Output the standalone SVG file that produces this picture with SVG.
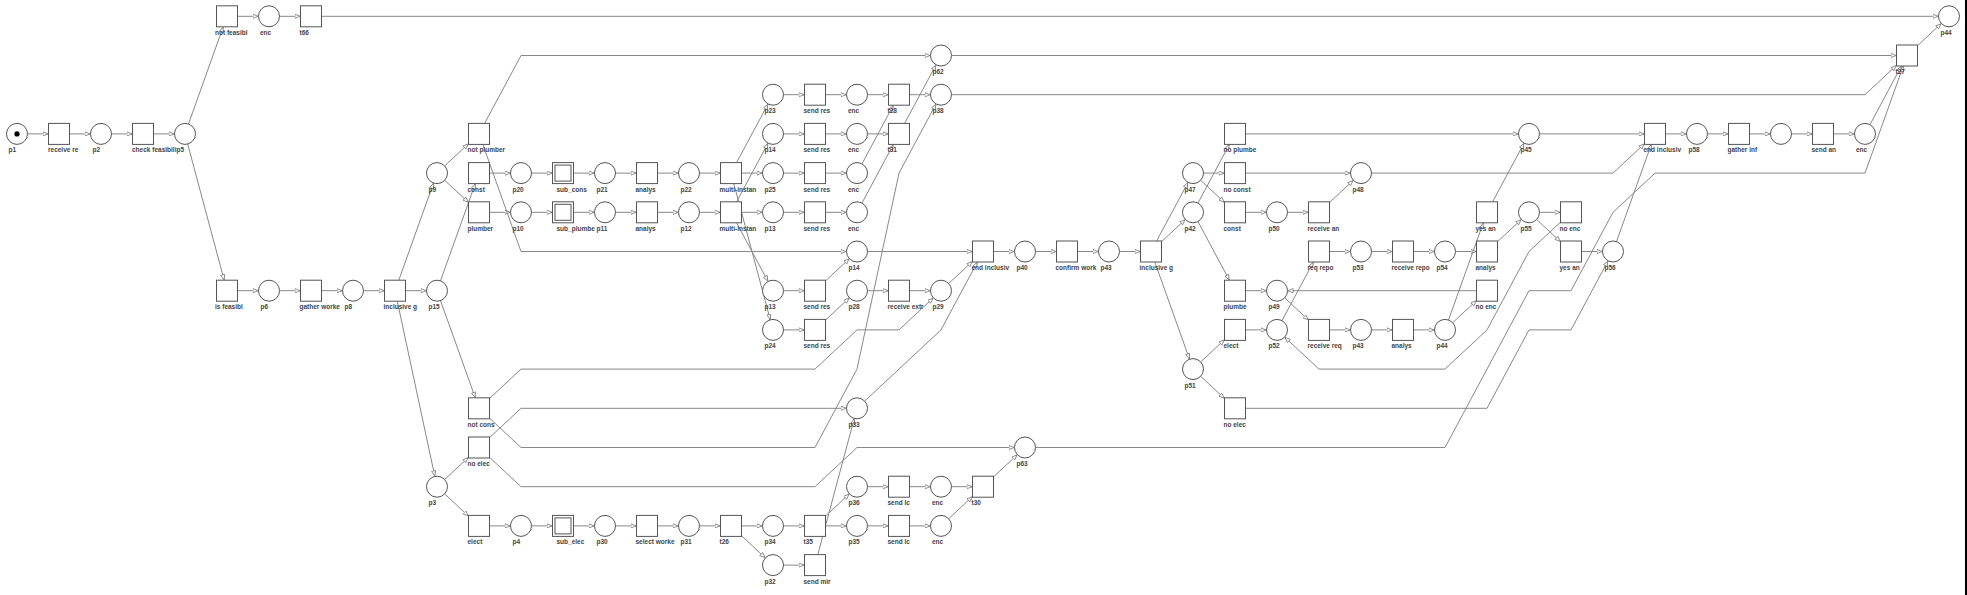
<svg xmlns="http://www.w3.org/2000/svg" width="1967" height="595" viewBox="0 0 1967 595">
<defs>
<marker id="a" viewBox="0 0 6 5" refX="6" refY="2.5" markerWidth="6" markerHeight="5" markerUnits="userSpaceOnUse" orient="auto"><path d="M0.4,0.4 L5.6,2.5 L0.4,4.6 Z" style="fill:#fff;stroke:#777;stroke-width:0.8"/></marker>
</defs>
<style>
.e{fill:none;stroke:#888;stroke-width:1;marker-end:url(#a)}
g circle,g rect{fill:#fff;stroke:#555;stroke-width:1}
g circle.tk{fill:#000;stroke:none}
text{font-family:"Liberation Sans",Arial,sans-serif;font-size:6.5px;font-weight:bold;fill:#444}
</style>
<g id="connectors">
<path class="e" d="M237.5,16.3H258.5"/><path class="e" d="M279.5,16.3H300.5"/><path class="e" d="M321.5,16.3H1938.5"/>
<path class="e" d="M951.5,55.5H1896.5"/>
<path class="e" d="M783.5,94.7H804.5"/><path class="e" d="M825.5,94.7H846.5"/><path class="e" d="M867.5,94.7H888.5"/><path class="e" d="M909.5,94.7H930.5"/>
<path class="e" d="M27.5,133.9H48.5"/><path class="e" d="M69.5,133.9H90.5"/><path class="e" d="M111.5,133.9H132.5"/><path class="e" d="M153.5,133.9H174.5"/>
<path class="e" d="M783.5,133.9H804.5"/><path class="e" d="M825.5,133.9H846.5"/><path class="e" d="M867.5,133.9H888.5"/>
<path class="e" d="M1245.5,133.9H1518.5"/><path class="e" d="M1539.5,133.9H1644.5"/><path class="e" d="M1665.5,133.9H1686.5"/><path class="e" d="M1707.5,133.9H1728.5"/><path class="e" d="M1749.5,133.9H1770.5"/><path class="e" d="M1791.5,133.9H1812.5"/><path class="e" d="M1833.5,133.9H1854.5"/>
<path class="e" d="M489.5,173.1H510.5"/><path class="e" d="M531.5,173.1H552.5"/><path class="e" d="M573.5,173.1H594.5"/><path class="e" d="M615.5,173.1H636.5"/><path class="e" d="M657.5,173.1H678.5"/><path class="e" d="M699.5,173.1H720.5"/><path class="e" d="M741.5,173.1H762.5"/><path class="e" d="M783.5,173.1H804.5"/><path class="e" d="M825.5,173.1H846.5"/>
<path class="e" d="M1203.5,173.1H1224.5"/><path class="e" d="M1245.5,173.1H1350.5"/>
<path class="e" d="M489.5,212.3H510.5"/><path class="e" d="M531.5,212.3H552.5"/><path class="e" d="M573.5,212.3H594.5"/><path class="e" d="M615.5,212.3H636.5"/><path class="e" d="M657.5,212.3H678.5"/><path class="e" d="M699.5,212.3H720.5"/><path class="e" d="M741.5,212.3H762.5"/><path class="e" d="M783.5,212.3H804.5"/><path class="e" d="M825.5,212.3H846.5"/>
<path class="e" d="M1245.5,212.3H1266.5"/><path class="e" d="M1287.5,212.3H1308.5"/><path class="e" d="M1539.5,212.3H1560.5"/>
<path class="e" d="M867.5,251.5H972.5"/><path class="e" d="M993.5,251.5H1014.5"/><path class="e" d="M1035.5,251.5H1056.5"/><path class="e" d="M1077.5,251.5H1098.5"/><path class="e" d="M1119.5,251.5H1140.5"/>
<path class="e" d="M1329.5,251.5H1350.5"/><path class="e" d="M1371.5,251.5H1392.5"/><path class="e" d="M1413.5,251.5H1434.5"/><path class="e" d="M1455.5,251.5H1476.5"/><path class="e" d="M1581.5,251.5H1602.5"/>
<path class="e" d="M237.5,290.7H258.5"/><path class="e" d="M279.5,290.7H300.5"/><path class="e" d="M321.5,290.7H342.5"/><path class="e" d="M363.5,290.7H384.5"/><path class="e" d="M405.5,290.7H426.5"/>
<path class="e" d="M783.5,290.7H804.5"/><path class="e" d="M867.5,290.7H888.5"/><path class="e" d="M909.5,290.7H930.5"/>
<path class="e" d="M1245.5,290.7H1266.5"/><path class="e" d="M1476.5,290.7H1287.5"/>
<path class="e" d="M783.5,329.9H804.5"/><path class="e" d="M1245.5,329.9H1266.5"/><path class="e" d="M1329.5,329.9H1350.5"/><path class="e" d="M1371.5,329.9H1392.5"/><path class="e" d="M1413.5,329.9H1434.5"/>
<path class="e" d="M867.5,486.7H888.5"/><path class="e" d="M909.5,486.7H930.5"/><path class="e" d="M951.5,486.7H972.5"/>
<path class="e" d="M489.5,525.9H510.5"/><path class="e" d="M531.5,525.9H552.5"/><path class="e" d="M573.5,525.9H594.5"/><path class="e" d="M615.5,525.9H636.5"/><path class="e" d="M657.5,525.9H678.5"/><path class="e" d="M699.5,525.9H720.5"/><path class="e" d="M741.5,525.9H762.5"/><path class="e" d="M783.5,525.9H804.5"/><path class="e" d="M825.5,525.9H846.5"/><path class="e" d="M867.5,525.9H888.5"/><path class="e" d="M909.5,525.9H930.5"/>
<path class="e" d="M783.5,565.1H804.5"/>
<path class="e" d="M188.5,124L223.2,26.8"/>
<path class="e" d="M187.7,144L224.2,280.2"/>
<path class="e" d="M398.8,280.2L433.5,183"/>
<path class="e" d="M397.3,301.2L434.8,476.4"/>
<path class="e" d="M440.5,280.8L475.3,183.6"/>
<path class="e" d="M440.5,300.6L475.3,397.8"/>
<path class="e" d="M444.7,165.9L468.5,143.7"/>
<path class="e" d="M444.7,180.3L468.5,202.5"/>
<path class="e" d="M444.7,479.5L468.5,457.3"/>
<path class="e" d="M444.7,493.9L468.5,516.1"/>
<path class="e" d="M484.6,123.4L521,55.5H930.5"/>
<path class="e" d="M482.8,144.4L521,251.5H846.5"/>
<path class="e" d="M489.5,398.5L521,369.1H815L857,329.9H899L933.3,297.9"/>
<path class="e" d="M489.5,418.1L521,447.5H815L857,369.1L899,173.1L936,104"/>
<path class="e" d="M489.5,437.7L521,408.3H846.5"/>
<path class="e" d="M489.5,457.3L521,486.7H815L857,447.5H1014.5"/>
<path class="e" d="M736.6,162.6L768,104"/>
<path class="e" d="M733.8,183.6L770.3,319.8"/>
<path class="e" d="M736.6,201.8L768,143.2"/>
<path class="e" d="M736.6,222.8L768,281.4"/>
<path class="e" d="M862,163.8L893.4,105.2"/>
<path class="e" d="M862,203L893.4,144.4"/>
<path class="e" d="M904.6,123.4L936,64.8"/>
<path class="e" d="M825.5,280.9L849.3,258.7"/>
<path class="e" d="M825.5,320.1L849.3,297.9"/>
<path class="e" d="M948.7,283.5L972.5,261.3"/>
<path class="e" d="M817.8,554.6L854.3,418.4"/>
<path class="e" d="M864.7,401.1L941,329.9L977.4,262"/>
<path class="e" d="M741.5,535.7L765.3,557.9"/>
<path class="e" d="M825.5,516.1L849.3,493.9"/>
<path class="e" d="M948.7,518.7L972.5,496.5"/>
<path class="e" d="M993.5,476.9L1017.3,454.7"/>
<path class="e" d="M1035.5,447.5H1445L1529,290.7H1571L1613,212.3L1655,173.1H1865L1903.3,66"/>
<path class="e" d="M951.5,94.7H1865L1896.5,65.3"/>
<path class="e" d="M1870,124.6L1901.4,66"/>
<path class="e" d="M1917.5,45.7L1941.3,23.5"/>
<path class="e" d="M1156.6,241L1188,182.4"/>
<path class="e" d="M1161.5,241.7L1185.3,219.5"/>
<path class="e" d="M1154.8,262L1189.5,359.2"/>
<path class="e" d="M1200.7,180.3L1224.5,202.5"/>
<path class="e" d="M1198,203L1229.4,144.4"/>
<path class="e" d="M1198,221.6L1229.4,280.2"/>
<path class="e" d="M1200.7,361.9L1224.5,339.7"/>
<path class="e" d="M1200.7,376.3L1224.5,398.5"/>
<path class="e" d="M1245.5,408.3H1487L1529,329.9H1571L1608,260.8"/>
<path class="e" d="M1329.5,202.5L1353.3,180.3"/>
<path class="e" d="M1371.5,173.1H1613L1644.5,143.7"/>
<path class="e" d="M1284.7,297.9L1308.5,320.1"/>
<path class="e" d="M1282,320.6L1313.4,262"/>
<path class="e" d="M1448.5,320L1483.3,222.8"/>
<path class="e" d="M1452.7,322.7L1476.5,300.5"/>
<path class="e" d="M1497.5,241.7L1521.3,219.5"/>
<path class="e" d="M1536.7,219.5L1560.5,241.7"/>
<path class="e" d="M1492.6,201.8L1524,143.2"/>
<path class="e" d="M1616.5,241.6L1651.3,144.4"/>
<path class="e" d="M1560.5,222.1L1529,251.5L1487,329.9L1445,369.1H1319L1284.7,337.1"/>
</g>
<g id="n0_3" transform="translate(17,133.9)"><circle r="10.5"/><circle class="tk" r="2.6"/><text x="-8.5" y="18.5">p1</text></g>
<g id="n1_3" transform="translate(59,133.9)"><rect x="-10.5" y="-10.5" width="21" height="21"/><text x="-11" y="18.5">receive re</text></g>
<g id="n2_3" transform="translate(101,133.9)"><circle r="10.5"/><text x="-8.5" y="18.5">p2</text></g>
<g id="n3_3" transform="translate(143,133.9)"><rect x="-10.5" y="-10.5" width="21" height="21"/><text x="-11" y="18.5">check feasibili</text></g>
<g id="n4_3" transform="translate(185,133.9)"><circle r="10.5"/><text x="-8.5" y="18.5">p5</text></g>
<g id="n5_0" transform="translate(227,16.3)"><rect x="-10.5" y="-10.5" width="21" height="21"/><text x="-12" y="18.5">not feasibl</text></g>
<g id="n6_0" transform="translate(269,16.3)"><circle r="10.5"/><text x="-9" y="18.5">enc</text></g>
<g id="n7_0" transform="translate(311,16.3)"><rect x="-10.5" y="-10.5" width="21" height="21"/><text x="-11.5" y="18.5">t66</text></g>
<g id="n5_7" transform="translate(227,290.7)"><rect x="-10.5" y="-10.5" width="21" height="21"/><text x="-12" y="18.5">is feasibl</text></g>
<g id="n6_7" transform="translate(269,290.7)"><circle r="10.5"/><text x="-8.5" y="18.5">p6</text></g>
<g id="n7_7" transform="translate(311,290.7)"><rect x="-10.5" y="-10.5" width="21" height="21"/><text x="-11.5" y="18.5">gather worke</text></g>
<g id="n8_7" transform="translate(353,290.7)"><circle r="10.5"/><text x="-8.5" y="18.5">p8</text></g>
<g id="n9_7" transform="translate(395,290.7)"><rect x="-10.5" y="-10.5" width="21" height="21"/><text x="-11.5" y="18.5">inclusive g</text></g>
<g id="n10_4" transform="translate(437,173.1)"><circle r="10.5"/><text x="-8.5" y="18.5">p9</text></g>
<g id="n10_7" transform="translate(437,290.7)"><circle r="10.5"/><text x="-8.5" y="18.5">p15</text></g>
<g id="n10_12" transform="translate(437,486.7)"><circle r="10.5"/><text x="-8.5" y="18.5">p3</text></g>
<g id="n11_3" transform="translate(479,133.9)"><rect x="-10.5" y="-10.5" width="21" height="21"/><text x="-11.5" y="18.5">not plumber</text></g>
<g id="n11_4" transform="translate(479,173.1)"><rect x="-10.5" y="-10.5" width="21" height="21"/><text x="-11.5" y="18.5">const</text></g>
<g id="n11_5" transform="translate(479,212.3)"><rect x="-10.5" y="-10.5" width="21" height="21"/><text x="-11.5" y="18.5">plumber</text></g>
<g id="n11_10" transform="translate(479,408.3)"><rect x="-10.5" y="-10.5" width="21" height="21"/><text x="-11.5" y="18.5">not cons</text></g>
<g id="n11_11" transform="translate(479,447.5)"><rect x="-10.5" y="-10.5" width="21" height="21"/><text x="-11.5" y="18.5">no elec</text></g>
<g id="n11_13" transform="translate(479,525.9)"><rect x="-10.5" y="-10.5" width="21" height="21"/><text x="-11.5" y="18.5">elect</text></g>
<g id="n12_4" transform="translate(521,173.1)"><circle r="10.5"/><text x="-8.5" y="18.5">p20</text></g>
<g id="n13_4" transform="translate(563,173.1)"><rect x="-10.5" y="-10.5" width="21" height="21"/><rect x="-8" y="-8" width="16" height="16"/><text x="-6.5" y="18.5">sub_cons</text></g>
<g id="n14_4" transform="translate(605,173.1)"><circle r="10.5"/><text x="-8.5" y="18.5">p21</text></g>
<g id="n15_4" transform="translate(647,173.1)"><rect x="-10.5" y="-10.5" width="21" height="21"/><text x="-11.5" y="18.5">analys</text></g>
<g id="n16_4" transform="translate(689,173.1)"><circle r="10.5"/><text x="-8.5" y="18.5">p22</text></g>
<g id="n17_4" transform="translate(731,173.1)"><rect x="-10.5" y="-10.5" width="21" height="21"/><text x="-11.5" y="18.5">multi-instan</text></g>
<g id="n12_5" transform="translate(521,212.3)"><circle r="10.5"/><text x="-8.5" y="18.5">p10</text></g>
<g id="n13_5" transform="translate(563,212.3)"><rect x="-10.5" y="-10.5" width="21" height="21"/><rect x="-8" y="-8" width="16" height="16"/><text x="-6.5" y="18.5">sub_plumbe</text></g>
<g id="n14_5" transform="translate(605,212.3)"><circle r="10.5"/><text x="-8.5" y="18.5">p11</text></g>
<g id="n15_5" transform="translate(647,212.3)"><rect x="-10.5" y="-10.5" width="21" height="21"/><text x="-11.5" y="18.5">analys</text></g>
<g id="n16_5" transform="translate(689,212.3)"><circle r="10.5"/><text x="-8.5" y="18.5">p12</text></g>
<g id="n17_5" transform="translate(731,212.3)"><rect x="-10.5" y="-10.5" width="21" height="21"/><text x="-11.5" y="18.5">multi-instan</text></g>
<g id="n18_2" transform="translate(773,94.7)"><circle r="10.5"/><text x="-8.5" y="18.5">p23</text></g>
<g id="n18_3" transform="translate(773,133.9)"><circle r="10.5"/><text x="-8.5" y="18.5">p14</text></g>
<g id="n18_4" transform="translate(773,173.1)"><circle r="10.5"/><text x="-8.5" y="18.5">p25</text></g>
<g id="n18_5" transform="translate(773,212.3)"><circle r="10.5"/><text x="-8.5" y="18.5">p13</text></g>
<g id="n18_7" transform="translate(773,290.7)"><circle r="10.5"/><text x="-8.5" y="18.5">p13</text></g>
<g id="n18_8" transform="translate(773,329.9)"><circle r="10.5"/><text x="-8.5" y="18.5">p24</text></g>
<g id="n19_2" transform="translate(815,94.7)"><rect x="-10.5" y="-10.5" width="21" height="21"/><text x="-11.5" y="18.5">send res</text></g>
<g id="n19_3" transform="translate(815,133.9)"><rect x="-10.5" y="-10.5" width="21" height="21"/><text x="-11.5" y="18.5">send res</text></g>
<g id="n19_4" transform="translate(815,173.1)"><rect x="-10.5" y="-10.5" width="21" height="21"/><text x="-11.5" y="18.5">send res</text></g>
<g id="n19_5" transform="translate(815,212.3)"><rect x="-10.5" y="-10.5" width="21" height="21"/><text x="-11.5" y="18.5">send res</text></g>
<g id="n19_7" transform="translate(815,290.7)"><rect x="-10.5" y="-10.5" width="21" height="21"/><text x="-11.5" y="18.5">send res</text></g>
<g id="n19_8" transform="translate(815,329.9)"><rect x="-10.5" y="-10.5" width="21" height="21"/><text x="-11.5" y="18.5">send res</text></g>
<g id="n20_2" transform="translate(857,94.7)"><circle r="10.5"/><text x="-9" y="18.5">enc</text></g>
<g id="n20_3" transform="translate(857,133.9)"><circle r="10.5"/><text x="-9" y="18.5">enc</text></g>
<g id="n20_4" transform="translate(857,173.1)"><circle r="10.5"/><text x="-9" y="18.5">enc</text></g>
<g id="n20_5" transform="translate(857,212.3)"><circle r="10.5"/><text x="-9" y="18.5">enc</text></g>
<g id="n20_6" transform="translate(857,251.5)"><circle r="10.5"/><text x="-8.5" y="18.5">p14</text></g>
<g id="n20_7" transform="translate(857,290.7)"><circle r="10.5"/><text x="-8.5" y="18.5">p28</text></g>
<g id="n21_2" transform="translate(899,94.7)"><rect x="-10.5" y="-10.5" width="21" height="21"/><text x="-11.5" y="18.5">t28</text></g>
<g id="n21_3" transform="translate(899,133.9)"><rect x="-10.5" y="-10.5" width="21" height="21"/><text x="-11.5" y="18.5">t31</text></g>
<g id="n21_7" transform="translate(899,290.7)"><rect x="-10.5" y="-10.5" width="21" height="21"/><text x="-11.5" y="18.5">receive extr</text></g>
<g id="n22_1" transform="translate(941,55.5)"><circle r="10.5"/><text x="-8.5" y="18.5">p62</text></g>
<g id="n22_2" transform="translate(941,94.7)"><circle r="10.5"/><text x="-8.5" y="18.5">p38</text></g>
<g id="n22_7" transform="translate(941,290.7)"><circle r="10.5"/><text x="-8.5" y="18.5">p29</text></g>
<g id="n23_6" transform="translate(983,251.5)"><rect x="-10.5" y="-10.5" width="21" height="21"/><text x="-11.5" y="18.5">end inclusiv</text></g>
<g id="n24_6" transform="translate(1025,251.5)"><circle r="10.5"/><text x="-8.5" y="18.5">p40</text></g>
<g id="n25_6" transform="translate(1067,251.5)"><rect x="-10.5" y="-10.5" width="21" height="21"/><text x="-11.5" y="18.5">confirm work</text></g>
<g id="n26_6" transform="translate(1109,251.5)"><circle r="10.5"/><text x="-8.5" y="18.5">p43</text></g>
<g id="n27_6" transform="translate(1151,251.5)"><rect x="-10.5" y="-10.5" width="21" height="21"/><text x="-11.5" y="18.5">inclusive g</text></g>
<g id="n28_4" transform="translate(1193,173.1)"><circle r="10.5"/><text x="-8.5" y="18.5">p47</text></g>
<g id="n28_5" transform="translate(1193,212.3)"><circle r="10.5"/><text x="-8.5" y="18.5">p42</text></g>
<g id="n28_9" transform="translate(1193,369.1)"><circle r="10.5"/><text x="-8.5" y="18.5">p51</text></g>
<g id="n29_3" transform="translate(1235,133.9)"><rect x="-10.5" y="-10.5" width="21" height="21"/><text x="-11.5" y="18.5">no plumbe</text></g>
<g id="n29_4" transform="translate(1235,173.1)"><rect x="-10.5" y="-10.5" width="21" height="21"/><text x="-11.5" y="18.5">no const</text></g>
<g id="n29_5" transform="translate(1235,212.3)"><rect x="-10.5" y="-10.5" width="21" height="21"/><text x="-11.5" y="18.5">const</text></g>
<g id="n29_7" transform="translate(1235,290.7)"><rect x="-10.5" y="-10.5" width="21" height="21"/><text x="-11.5" y="18.5">plumbe</text></g>
<g id="n29_8" transform="translate(1235,329.9)"><rect x="-10.5" y="-10.5" width="21" height="21"/><text x="-11.5" y="18.5">elect</text></g>
<g id="n29_10" transform="translate(1235,408.3)"><rect x="-10.5" y="-10.5" width="21" height="21"/><text x="-11.5" y="18.5">no elec</text></g>
<g id="n30_5" transform="translate(1277,212.3)"><circle r="10.5"/><text x="-8.5" y="18.5">p50</text></g>
<g id="n30_7" transform="translate(1277,290.7)"><circle r="10.5"/><text x="-8.5" y="18.5">p49</text></g>
<g id="n30_8" transform="translate(1277,329.9)"><circle r="10.5"/><text x="-8.5" y="18.5">p52</text></g>
<g id="n31_5" transform="translate(1319,212.3)"><rect x="-10.5" y="-10.5" width="21" height="21"/><text x="-11.5" y="18.5">receive an</text></g>
<g id="n31_6" transform="translate(1319,251.5)"><rect x="-10.5" y="-10.5" width="21" height="21"/><text x="-11.5" y="18.5">req repo</text></g>
<g id="n31_8" transform="translate(1319,329.9)"><rect x="-10.5" y="-10.5" width="21" height="21"/><text x="-11.5" y="18.5">receive req</text></g>
<g id="n32_4" transform="translate(1361,173.1)"><circle r="10.5"/><text x="-8.5" y="18.5">p48</text></g>
<g id="n32_6" transform="translate(1361,251.5)"><circle r="10.5"/><text x="-8.5" y="18.5">p53</text></g>
<g id="n32_8" transform="translate(1361,329.9)"><circle r="10.5"/><text x="-8.5" y="18.5">p43</text></g>
<g id="n33_6" transform="translate(1403,251.5)"><rect x="-10.5" y="-10.5" width="21" height="21"/><text x="-11.5" y="18.5">receive repo</text></g>
<g id="n33_8" transform="translate(1403,329.9)"><rect x="-10.5" y="-10.5" width="21" height="21"/><text x="-11.5" y="18.5">analys</text></g>
<g id="n34_6" transform="translate(1445,251.5)"><circle r="10.5"/><text x="-8.5" y="18.5">p54</text></g>
<g id="n34_8" transform="translate(1445,329.9)"><circle r="10.5"/><text x="-8.5" y="18.5">p44</text></g>
<g id="n35_5" transform="translate(1487,212.3)"><rect x="-10.5" y="-10.5" width="21" height="21"/><text x="-11.5" y="18.5">yes an</text></g>
<g id="n35_6" transform="translate(1487,251.5)"><rect x="-10.5" y="-10.5" width="21" height="21"/><text x="-11.5" y="18.5">analys</text></g>
<g id="n35_7" transform="translate(1487,290.7)"><rect x="-10.5" y="-10.5" width="21" height="21"/><text x="-11.5" y="18.5">no enc</text></g>
<g id="n36_3" transform="translate(1529,133.9)"><circle r="10.5"/><text x="-8.5" y="18.5">p45</text></g>
<g id="n36_5" transform="translate(1529,212.3)"><circle r="10.5"/><text x="-8.5" y="18.5">p55</text></g>
<g id="n37_5" transform="translate(1571,212.3)"><rect x="-10.5" y="-10.5" width="21" height="21"/><text x="-11.5" y="18.5">no enc</text></g>
<g id="n37_6" transform="translate(1571,251.5)"><rect x="-10.5" y="-10.5" width="21" height="21"/><text x="-11.5" y="18.5">yes an</text></g>
<g id="n38_6" transform="translate(1613,251.5)"><circle r="10.5"/><text x="-8.5" y="18.5">p56</text></g>
<g id="n39_3" transform="translate(1655,133.9)"><rect x="-10.5" y="-10.5" width="21" height="21"/><text x="-11.5" y="18.5">end inclusiv</text></g>
<g id="n40_3" transform="translate(1697,133.9)"><circle r="10.5"/><text x="-8.5" y="18.5">p58</text></g>
<g id="n41_3" transform="translate(1739,133.9)"><rect x="-10.5" y="-10.5" width="21" height="21"/><text x="-11.5" y="18.5">gather inf</text></g>
<g id="n42_3" transform="translate(1781,133.9)"><circle r="10.5"/></g>
<g id="n43_3" transform="translate(1823,133.9)"><rect x="-10.5" y="-10.5" width="21" height="21"/><text x="-11.5" y="18.5">send an</text></g>
<g id="n44_3" transform="translate(1865,133.9)"><circle r="10.5"/><text x="-9" y="18.5">enc</text></g>
<g id="n45_1" transform="translate(1907,55.5)"><rect x="-10.5" y="-10.5" width="21" height="21"/><text x="-11.5" y="18.5">t27</text></g>
<g id="n46_0" transform="translate(1949,16.3)"><circle r="10.5"/><text x="-8.5" y="18.5">p44</text></g>
<g id="n12_13" transform="translate(521,525.9)"><circle r="10.5"/><text x="-8.5" y="18.5">p4</text></g>
<g id="n13_13" transform="translate(563,525.9)"><rect x="-10.5" y="-10.5" width="21" height="21"/><rect x="-8" y="-8" width="16" height="16"/><text x="-6.5" y="18.5">sub_elec</text></g>
<g id="n14_13" transform="translate(605,525.9)"><circle r="10.5"/><text x="-8.5" y="18.5">p30</text></g>
<g id="n15_13" transform="translate(647,525.9)"><rect x="-10.5" y="-10.5" width="21" height="21"/><text x="-11.5" y="18.5">select worke</text></g>
<g id="n16_13" transform="translate(689,525.9)"><circle r="10.5"/><text x="-8.5" y="18.5">p31</text></g>
<g id="n17_13" transform="translate(731,525.9)"><rect x="-10.5" y="-10.5" width="21" height="21"/><text x="-11.5" y="18.5">t26</text></g>
<g id="n18_13" transform="translate(773,525.9)"><circle r="10.5"/><text x="-8.5" y="18.5">p34</text></g>
<g id="n18_14" transform="translate(773,565.1)"><circle r="10.5"/><text x="-8.5" y="18.5">p32</text></g>
<g id="n19_13" transform="translate(815,525.9)"><rect x="-10.5" y="-10.5" width="21" height="21"/><text x="-11.5" y="18.5">t35</text></g>
<g id="n19_14" transform="translate(815,565.1)"><rect x="-10.5" y="-10.5" width="21" height="21"/><text x="-11.5" y="18.5">send mir</text></g>
<g id="n20_10" transform="translate(857,408.3)"><circle r="10.5"/><text x="-8.5" y="18.5">p33</text></g>
<g id="n20_12" transform="translate(857,486.7)"><circle r="10.5"/><text x="-8.5" y="18.5">p36</text></g>
<g id="n20_13" transform="translate(857,525.9)"><circle r="10.5"/><text x="-8.5" y="18.5">p35</text></g>
<g id="n21_12" transform="translate(899,486.7)"><rect x="-10.5" y="-10.5" width="21" height="21"/><text x="-11.5" y="18.5">send lc</text></g>
<g id="n21_13" transform="translate(899,525.9)"><rect x="-10.5" y="-10.5" width="21" height="21"/><text x="-11.5" y="18.5">send lc</text></g>
<g id="n22_12" transform="translate(941,486.7)"><circle r="10.5"/><text x="-9" y="18.5">enc</text></g>
<g id="n22_13" transform="translate(941,525.9)"><circle r="10.5"/><text x="-9" y="18.5">enc</text></g>
<g id="n23_12" transform="translate(983,486.7)"><rect x="-10.5" y="-10.5" width="21" height="21"/><text x="-11.5" y="18.5">t30</text></g>
<g id="n24_11" transform="translate(1025,447.5)"><circle r="10.5"/><text x="-8.5" y="18.5">p63</text></g>
<rect x="1965" y="0" width="2" height="595" style="fill:#000;stroke:none"/>
</svg>
